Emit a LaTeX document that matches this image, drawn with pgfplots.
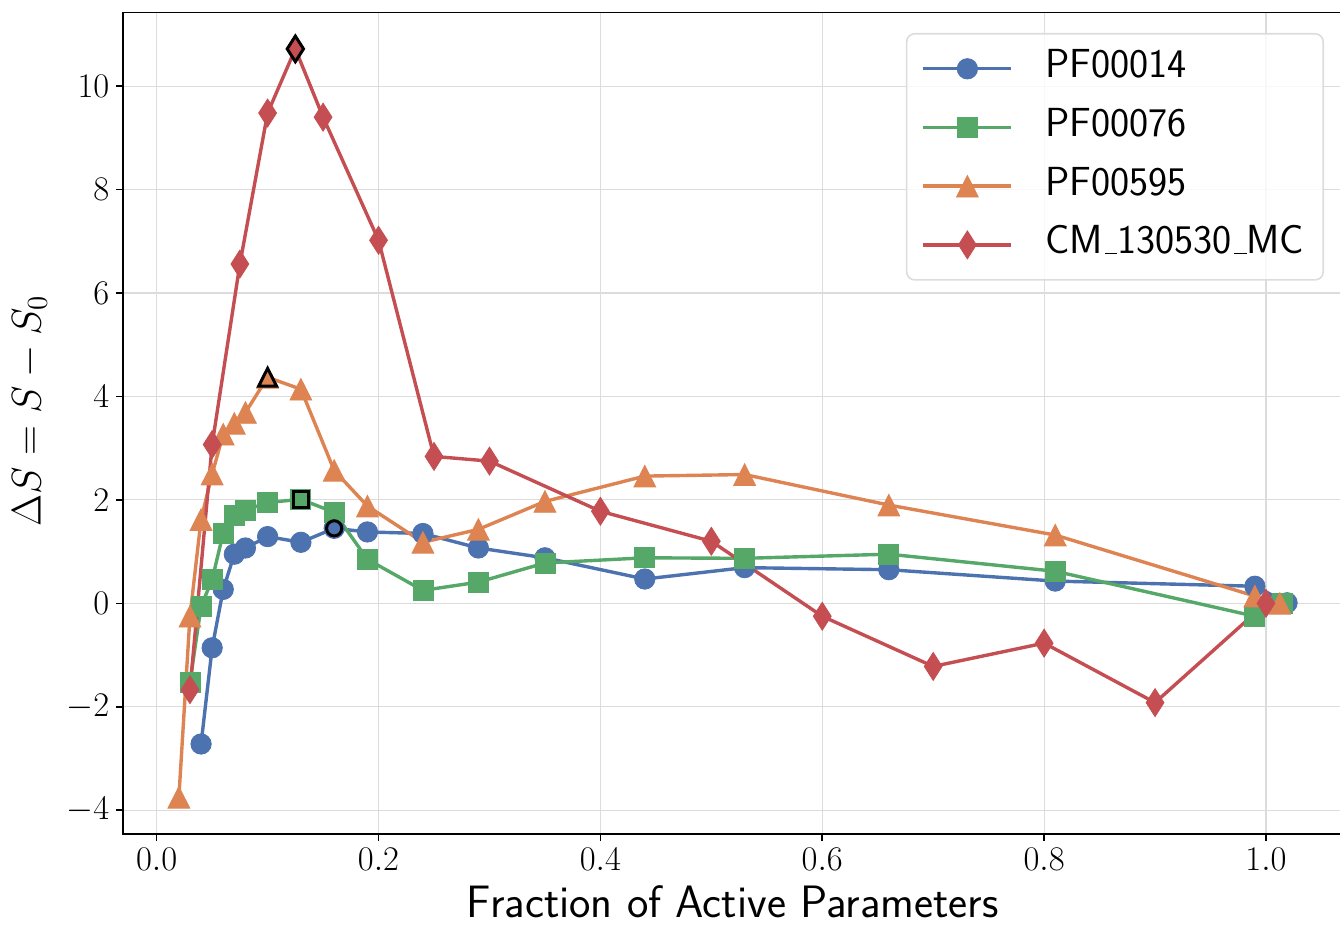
\documentclass[border=0pt]{standalone}
\usepackage{pgfplots}
\pgfplotsset{compat=1.18}
\definecolor{cblue}{HTML}{4C72B0}
\definecolor{cgreen}{HTML}{55A868}
\definecolor{corange}{HTML}{DD8452}
\definecolor{cred}{HTML}{C44E52}
\definecolor{gridc}{HTML}{DCDCDC}
\newcommand\myus{\leavevmode\kern.06em\vbox{\hrule width.3em height 0.6pt}}
\begin{document}
\begin{tikzpicture}
\begin{axis}[
  scale only axis, width=609.5pt, height=410.65pt,
  xmin=-0.0301, xmax=1.0688, ymin=-4.46, ymax=11.42,
  xtick={0,0.2,0.4,0.6,0.8,1.0},
  ytick={-4,-2,0,2,4,6,8,10},
  xticklabel style={/pgf/number format/.cd, fixed, fixed zerofill, precision=1},
  tick label style={font=\fontsize{18.8}{22}\selectfont},
  tick align=outside, xtick pos=bottom, ytick pos=left,
  major tick length=3.5pt,
  tick style={black, line width=0.8pt},
  axis line style={black, line width=0.8pt},
  grid=major, grid style={line width=0.6pt, draw=gridc},
  xlabel={Fraction of Active Parameters},
  ylabel={$\Delta S = S - S_0$},
  xlabel style={font=\sffamily\fontsize{22.7}{27}\selectfont, yshift=-1pt},
  ylabel style={font=\fontsize{20.5}{24}\selectfont, at={(ticklabel cs:0.515,3pt)}},
  legend cell align=left,
  legend style={at={(1,1)}, anchor=north east, xshift=-9.15pt, yshift=-10.15pt,
    font=\sffamily\fontsize{20.3}{24}\selectfont,
    draw=gridc, line width=0.8pt, rounded corners=4pt, fill=white, fill opacity=0.8, text opacity=1,
    inner xsep=7.5pt, inner ysep=5.5pt, row sep=5.35pt, column sep=14pt,
    nodes={inner sep=2pt, text height=14.5pt, text depth=5.5pt}},
  legend image code/.code={\draw[fill opacity=1, draw opacity=1, mark repeat=2,mark phase=2] plot coordinates {(0pt,0pt) (22pt,0pt) (44pt,0pt)};},
]
\addplot[cblue, line width=1.7pt, mark=*, mark size=5.1pt, mark options={solid, fill=cblue, draw=cblue, line width=0.4pt}] coordinates {
(0.04,-2.72) (0.05,-0.86) (0.06,0.27) (0.07,0.95) (0.08,1.07) (0.10,1.29) (0.13,1.18) (0.16,1.45) (0.19,1.38) (0.24,1.35) (0.29,1.07) (0.35,0.88) (0.44,0.47) (0.53,0.69) (0.66,0.65) (0.81,0.43) (0.99,0.33) (1.019,0.01)};
\addlegendentry{PF00014}
\addplot[cgreen, line width=1.7pt, mark=square*, mark size=5pt, mark options={solid, fill=cgreen, draw=cgreen, line width=0.4pt}] coordinates {
(0.03,-1.53) (0.04,-0.06) (0.05,0.46) (0.06,1.36) (0.07,1.70) (0.08,1.80) (0.10,1.95) (0.13,2.01) (0.16,1.76) (0.19,0.85) (0.24,0.25) (0.29,0.41) (0.35,0.78) (0.44,0.88) (0.53,0.87) (0.66,0.95) (0.81,0.62) (0.99,-0.25) (1.015,0.00)};
\addlegendentry{PF00076}
\addplot[corange, line width=1.7pt, mark=triangle*, mark size=6.3pt, mark options={solid, fill=corange, draw=corange, line width=0.4pt, yscale=1.14, yshift=-1.6pt}] coordinates {
(0.02,-3.75) (0.03,-0.25) (0.04,1.62) (0.05,2.50) (0.06,3.27) (0.07,3.48) (0.08,3.69) (0.10,4.37) (0.13,4.14) (0.16,2.57) (0.19,1.88) (0.24,1.18) (0.29,1.43) (0.35,1.97) (0.44,2.46) (0.53,2.49) (0.66,1.90) (0.81,1.32) (0.99,0.14) (1.0125,0.00)};
\addlegendentry{PF00595}
\addplot[cred, line width=1.7pt, mark=diamond*, mark size=7pt, mark options={solid, fill=cred, draw=cred, line width=0.4pt, xscale=0.85}] coordinates {
(0.03,-1.67) (0.05,3.07) (0.075,6.56) (0.10,9.48) (0.125,10.72) (0.15,9.40) (0.20,7.02) (0.25,2.84) (0.30,2.75) (0.40,1.78) (0.50,1.20) (0.60,-0.25) (0.70,-1.22) (0.80,-0.77) (0.90,-1.92) (1.00,0.00)};
\addlegendentry{CM\myus 130530\myus MC}
% highlighted maxima
\addplot[forget plot, only marks, mark=*, mark size=3.8pt, mark options={fill=cblue, draw=black, line width=1.5pt}] coordinates {(0.16,1.45)};
\addplot[forget plot, only marks, mark=square*, mark size=3.9pt, mark options={fill=cgreen, draw=black, line width=1.5pt}] coordinates {(0.13,2.01)};
\addplot[forget plot, only marks, mark=triangle*, mark size=5.2pt, mark options={fill=corange, draw=black, line width=1.5pt, yscale=1.14, yshift=-1.3pt}] coordinates {(0.10,4.37)};
\addplot[forget plot, only marks, mark=diamond*, mark size=6.4pt, mark options={fill=cred, draw=black, line width=1.5pt, xscale=0.85}] coordinates {(0.125,10.72)};
\end{axis}
\pgfresetboundingbox
\path[use as bounding box] (-61.65pt,-45.5pt) rectangle (608.35pt,417pt);
\end{tikzpicture}
\end{document}
